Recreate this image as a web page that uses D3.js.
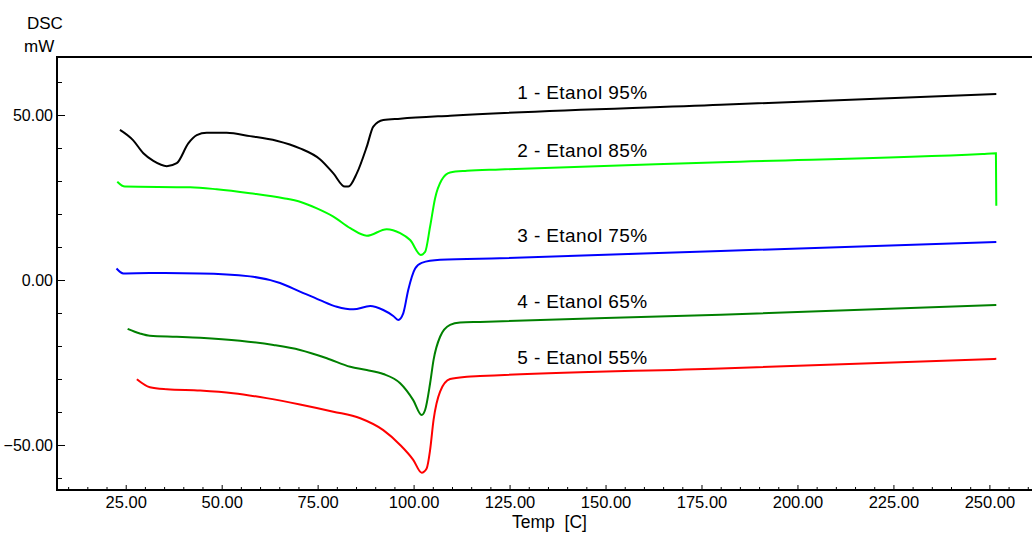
<!DOCTYPE html>
<html>
<head>
<meta charset="utf-8">
<script src="https://cdn.jsdelivr.net/npm/d3@7"></script>
<style>
  body { margin: 0; background: #fff; }
  svg { display: block; font-family: "Liberation Sans", Arial, sans-serif; }
</style>
</head>
<body>
<svg id="chart" width="1032" height="534"></svg>
<script>
// DSC curves, temperature [C] vs heat flow [mW]
var temp1 = [23.5, 26.9, 29.6, 32.2, 35.7, 38.3, 41.3, 43.5, 46.1, 51.3, 57.4, 64.3, 70.4, 75.6, 79.1, 82.1, 83.0, 85.2, 87.8, 89.5, 92.1, 96.5, 109.5, 180.0, 251.8];
var dsc1  = [45.5, 42.4, 38.4, 36.1, 34.5, 35.4, 41.4, 43.9, 44.6, 44.6, 43.6, 42.2, 39.9, 36.6, 32.3, 28.3, 28.3, 32.3, 40.4, 46.5, 48.5, 48.9, 49.8, 53.1, 56.4];

var temp2 = [22.8, 24.8, 41.8, 48.7, 57.4, 66.1, 70.4, 74.8, 79.1, 83.5, 87.8, 93.0, 96.5, 99.1, 101.9, 103.0, 104.3, 105.6, 107.3, 109.5, 113.9, 122.5, 180.0, 248.2, 251.7, 251.8];
var dsc2  = [29.8, 28.3, 28.1, 27.5, 26.3, 24.8, 23.7, 21.7, 19.2, 15.7, 13.4, 15.4, 14.2, 12.1, 7.6, 8.5, 16.2, 24.8, 30.3, 32.6, 33.1, 33.5, 35.7, 38.2, 38.4, 22.5];

var temp3 = [22.6, 24.4, 31.3, 44.4, 57.4, 65.2, 70.4, 75.6, 80.0, 84.3, 88.7, 92.1, 94.7, 96.0, 97.3, 98.6, 100.4, 102.1, 106.9, 122.5, 180.0, 251.8];
var dsc3  = [3.5, 2.0, 2.1, 2.0, 1.1, -0.9, -3.5, -6.1, -8.1, -8.9, -7.9, -9.1, -10.9, -12.1, -10.1, -3.0, 3.5, 5.2, 6.1, 6.6, 8.8, 11.5];

var temp4 = [25.5, 28.7, 31.3, 38.3, 44.4, 54.8, 63.5, 70.4, 77.4, 83.5, 87.8, 92.1, 96.5, 99.9, 102.1, 103.0, 104.3, 105.2, 106.9, 109.5, 112.1, 117.3, 180.0, 251.8];
var dsc4  = [-14.8, -16.2, -16.9, -17.2, -17.5, -18.4, -19.7, -21.2, -23.7, -26.3, -27.3, -28.5, -31.3, -36.4, -40.9, -39.4, -31.3, -24.2, -17.2, -13.6, -12.9, -12.7, -10.5, -7.6];

var temp5 = [27.9, 31.3, 35.7, 44.4, 53.0, 61.7, 70.4, 79.1, 86.1, 92.1, 96.5, 99.9, 102.1, 103.4, 104.3, 105.2, 106.9, 109.5, 113.9, 117.3, 180.0, 251.8];
var dsc5  = [-30.1, -32.5, -33.1, -33.5, -34.3, -35.8, -37.7, -39.9, -41.9, -45.5, -50.0, -54.5, -58.4, -57.1, -51.5, -42.4, -33.8, -30.0, -29.3, -29.1, -26.8, -23.9];

var curveNames  = ["1 - Etanol 95%", "2 - Etanol 85%", "3 - Etanol 75%", "4 - Etanol 65%", "5 - Etanol 55%"];
var curveColors = ["#000000", "#00ff00", "#0000ff", "#008000", "#ff0000"];
var labelTemp   = [127.0, 127.0, 127.0, 127.0, 127.0];
var labelDsc    = [54.9, 37.4, 11.5, -8.5, -25.4];

var xMajor = [25, 50, 75, 100, 125, 150, 175, 200, 225, 250];
var yMajor = [50, 0, -50];
var yMinor = [60, 40, 30, 20, 10, -10, -20, -30, -40, -60];

var svg = d3.select("#chart");
var left = 57, top_ = 57, right = 1032, bottom = 490;

var x = d3.scaleLinear().domain([7.1, 261.1]).range([left, right]);
var y = d3.scaleLinear().domain([-63.64, 67.58]).range([bottom, top_]);

var xMinor = d3.range(10, 261, 5).filter(function(t) { return t % 25 !== 0; });

// minor ticks first, no labels
svg.append("g")
    .attr("transform", "translate(0," + bottom + ")")
    .call(d3.axisBottom(x).tickValues(xMinor).tickSize(-3).tickFormat(""))
    .call(function(g) { g.select(".domain").remove(); });

svg.append("g")
    .attr("transform", "translate(" + left + ",0)")
    .call(d3.axisLeft(y).tickValues(yMinor).tickSize(-5).tickFormat(""))
    .call(function(g) { g.select(".domain").remove(); });

var xAxis = svg.append("g")
    .attr("transform", "translate(0," + bottom + ")")
    .call(d3.axisBottom(x).tickValues(xMajor).tickSize(-5).tickPadding(6).tickFormat(d3.format(".2f")));
xAxis.select(".domain").remove();
xAxis.selectAll("text").attr("font-size", "16.5px").attr("fill", "#000").attr("font-family", null);

var yAxis = svg.append("g")
    .attr("transform", "translate(" + left + ",0)")
    .call(d3.axisLeft(y).tickValues(yMajor).tickSize(-8).tickPadding(3).tickFormat(d3.format(".2f")));
yAxis.select(".domain").remove();
yAxis.selectAll("text").attr("font-size", "16px").attr("fill", "#000").attr("font-family", null).attr("dx", "-1");

svg.selectAll(".tick line").attr("stroke", "#000");

// frame: left, top, bottom
svg.append("path")
    .attr("d", "M" + right + "," + top_ + "H" + left + "V" + bottom + "H" + right)
    .attr("fill", "none")
    .attr("stroke", "#000")
    .attr("stroke-width", 2);

var series = [[temp1, dsc1], [temp2, dsc2], [temp3, dsc3], [temp4, dsc4], [temp5, dsc5]];

var line = d3.line()
    .x(function(d) { return x(d[0]); })
    .y(function(d) { return y(d[1]); })
    .curve(d3.curveMonotoneX);

series.forEach(function(s, i) {
    var pts = s[0].map(function(t, j) { return [t, s[1][j]]; });
    svg.append("path")
        .datum(pts)
        .attr("d", line)
        .attr("fill", "none")
        .attr("stroke", curveColors[i])
        .attr("stroke-width", 2);

    svg.append("text")
        .attr("x", x(labelTemp[i]))
        .attr("y", y(labelDsc[i]))
        .attr("font-size", "19px")
        .attr("letter-spacing", "0.4px")
        .text(curveNames[i]);
});

svg.append("text").attr("x", 27).attr("y", 29).attr("font-size", "17px").text("DSC");
svg.append("text").attr("x", 24).attr("y", 52).attr("font-size", "17px").text("mW");
svg.append("text").attr("x", 512).attr("y", 528).attr("font-size", "17.5px")
    .attr("xml:space", "preserve").style("white-space", "pre").text("Temp  [C]");
</script>
</body>
</html>
